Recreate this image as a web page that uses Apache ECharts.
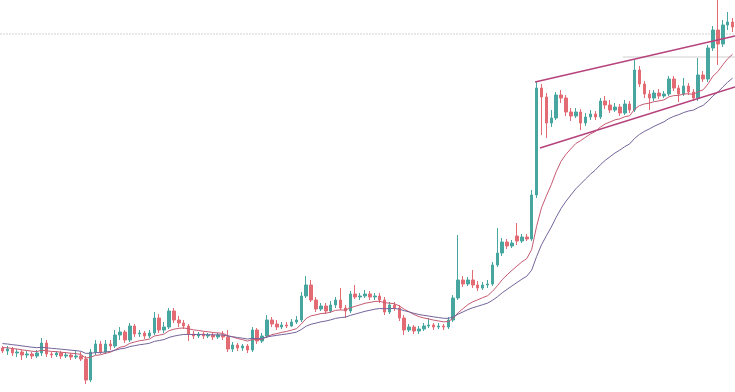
<!DOCTYPE html>
<html>
<head>
<meta charset="utf-8">
<script src="https://cdn.jsdelivr.net/npm/echarts@6/dist/echarts.min.js"></script>
<style>html,body{margin:0;padding:0;background:#fff;}#c{width:735px;height:392px;}</style>
</head>
<body>
<div id="c"></div>
<script>
// Candle values (price units, no axis shown in the reference)
var opens  = [52,49,51,47,48,45,46,44,47,57,46,45,47,44,45,43,44,41,20,48,56,48,56,54,65,68,60,74,66,67,64,67,82,70,73,89,80,77,74,66,64,66,64,65,63,65,63,51,55,52,54,50,70,59,64,80,76,73,75,74,78,80,104,115,100,91,94,89,95,100,92,89,106,103,104,106,103,104,100,88,95,92,82,70,73,69,71,74,75,73,74,73,80,102,120,116,120,115,112,115,116,135,147,158,154,164,159,163,161,205,312,303,277,282,305,302,288,284,288,277,283,286,283,299,295,290,293,287,296,290,330,316,306,302,307,304,306,321,312,306,314,308,302,325,321,352,370,356,375,378];
var closes = [49,51,47,48,45,46,44,47,57,46,45,47,44,45,43,44,41,20,48,56,48,56,54,65,68,60,74,66,67,64,67,82,70,73,89,80,77,74,66,64,66,64,65,63,65,63,51,55,52,54,50,70,59,64,80,76,73,75,74,78,80,104,115,100,91,94,89,95,100,92,89,106,103,104,106,103,104,100,88,95,92,82,70,73,69,71,74,75,73,74,73,80,102,120,116,120,115,112,115,116,135,147,158,154,157,159,163,161,205,312,303,277,282,305,302,288,284,288,277,283,286,283,299,295,290,293,287,296,290,330,316,306,302,307,304,306,321,312,306,314,308,302,325,321,352,370,356,375,378,373];
var lows   = [47,45,44,43,40,42,41,42,44,43,42,43,41,42,40,41,39,16,18,45,46,46,50,52,60,57,58,63,63,61,62,65,67,67,71,77,73,71,59,61,62,61,62,60,61,60,48,48,49,49,47,48,56,57,62,73,70,71,72,73,76,78,102,98,88,89,86,87,92,90,82,87,101,100,102,100,100,97,85,86,89,79,65,68,66,66,69,72,70,71,70,71,78,100,113,114,112,109,110,112,114,133,144,151,152,155,157,159,159,202,265,262,273,280,297,284,279,282,270,274,280,280,281,291,287,288,284,285,287,288,313,302,290,299,301,302,304,309,298,304,305,299,299,318,318,349,335,353,370,368];
var highs  = [54,54,53,51,50,49,48,50,62,60,48,49,49,48,47,49,48,44,51,60,59,60,60,70,73,70,77,76,70,69,70,88,86,78,92,92,84,80,76,69,68,68,67,67,67,69,70,58,57,56,56,73,72,67,85,83,80,78,78,81,84,108,124,120,103,97,97,99,103,112,95,109,115,107,110,109,107,107,103,98,98,95,85,76,75,74,77,82,77,77,76,83,105,165,124,123,130,119,118,120,138,172,162,161,160,177,166,166,210,318,316,307,290,308,310,305,292,292,291,287,290,289,302,304,300,297,296,300,299,340,334,319,310,310,311,309,324,324,315,322,317,311,342,329,355,374,400,380,388,382];

// Moving averages (EMA) and their starting levels read from the left edge
var fastPeriod = 13, slowPeriod = 26;
var fastSeed = 53, slowSeed = 57;

// Drawn lines (x in bar-index units, y in price)
var channelUpper = [[108.7, 318], [149.5, 364]];
var channelLower = [[109.7, 252], [149.5, 313]];
var levelTop = 366;         // faint dotted level across the chart
var levelShort = [[126.6, 343], [149.5, 343]];

var cats = closes.map(function(_, i){ return i; });
var candles = closes.map(function(c, i){ return [opens[i], c, lows[i], highs[i]]; });
function ema(period, seed){
  var a = 2 / (period + 1), p = seed, out = [];
  for (var i = 0; i < closes.length; i++){ p = p + a * (closes[i] - p); out.push(+p.toFixed(2)); }
  return out;
}
var fast = ema(fastPeriod, fastSeed), slow = ema(slowPeriod, slowSeed);
var n = closes.length;

var chart = echarts.init(document.getElementById('c'));
chart.setOption({
  animation: false,
  backgroundColor: '#ffffff',
  grid: {left: 0, right: 0, top: 0, bottom: 0},
  xAxis: [
    {type: 'category', data: cats, show: false, boundaryGap: true},
    {type: 'value', min: -0.5, max: n - 0.5, show: false}
  ],
  yAxis: {type: 'value', min: 8, max: 400, show: false, splitLine: {show: false}},
  series: [
    {type: 'line', xAxisIndex: 1, data: [[-0.5, levelTop], [n - 0.5, levelTop]], symbol: 'none',
      lineStyle: {color: '#d6d0d2', width: 1, type: [2, 1]}, z: 1},
    {type: 'line', xAxisIndex: 1, data: levelShort, symbol: 'none',
      lineStyle: {color: '#cfcfcf', width: 1}, z: 1},
    {type: 'candlestick', data: candles, barWidth: 3,
      itemStyle: {color: '#47a69f', color0: '#e36c74', borderColor: '#47a69f', borderColor0: '#e36c74', borderWidth: 1}, z: 2},
    {type: 'line', data: fast, symbol: 'none', smooth: false,
      lineStyle: {color: '#c65a72', width: 1}, z: 3},
    {type: 'line', data: slow, symbol: 'none', smooth: false,
      lineStyle: {color: '#74649a', width: 1}, z: 3},
    {type: 'line', xAxisIndex: 1, data: channelUpper, symbol: 'none',
      lineStyle: {color: '#b6427c', width: 1.6}, z: 4},
    {type: 'line', xAxisIndex: 1, data: channelLower, symbol: 'none',
      lineStyle: {color: '#b6427c', width: 1.6}, z: 4}
  ]
});
</script>
</body>
</html>
